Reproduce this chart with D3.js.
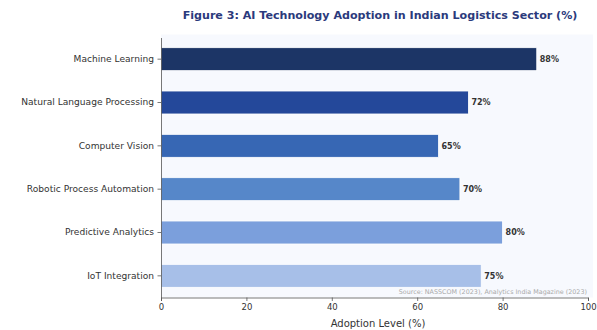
<!DOCTYPE html>
<html>
<head>
<meta charset="utf-8">
<script src="https://cdn.jsdelivr.net/npm/d3@7/dist/d3.min.js"></script>
<style>
  body { margin: 0; background: #fff; }
  svg { font-family: "DejaVu Sans", sans-serif; display: block; }
</style>
</head>
<body>
<div id="chart"></div>
<script>
// data
const technologies = ["Machine Learning", "Natural Language Processing", "Computer Vision",
  "Robotic Process Automation", "Predictive Analytics", "IoT Integration"];
const adoption = [88, 72, 65, 70, 80, 75];
const barColors = ["#1c3566", "#24489a", "#3767b4", "#5687c9", "#7b9fdc", "#a7bfe8"];
const xTicks = [0, 20, 40, 60, 80, 100];

const width = 597, height = 330;
const margin = { top: 37.5, right: 9, bottom: 32.5, left: 161 };

const svg = d3.select("#chart").append("svg")
  .attr("width", width)
  .attr("height", height);

const data = technologies.map((t, i) => ({ name: t, value: adoption[i], color: barColors[i] }));

const x = d3.scaleLinear().domain([0, 100]).range([margin.left, width - margin.right]);
const y = d3.scaleBand()
  .domain(technologies)
  .range([margin.top, height - margin.bottom])
  .paddingInner(0.47)
  .paddingOuter(0.235);

// plot background
svg.append("rect")
  .attr("x", margin.left)
  .attr("y", margin.top - 3)
  .attr("width", width - margin.left - 4)
  .attr("height", height - margin.bottom - margin.top + 3)
  .attr("fill", "#f7f9fe");

// bars
svg.append("g")
  .selectAll("rect")
  .data(data)
  .join("rect")
  .attr("x", x(0))
  .attr("y", d => y(d.name))
  .attr("width", d => x(d.value) - x(0))
  .attr("height", y.bandwidth())
  .attr("fill", d => d.color)
  .attr("stroke", "#ffffff")
  .attr("stroke-width", 0.8);

// value labels
svg.append("g")
  .selectAll("text")
  .data(data)
  .join("text")
  .attr("x", d => x(d.value) + 3)
  .attr("y", d => y(d.name) + y.bandwidth() / 2)
  .attr("dy", "0.35em")
  .attr("font-size", 8)
  .attr("font-weight", "bold")
  .attr("fill", "#333")
  .text(d => d.value + "%");

// x axis
const xAxis = svg.append("g")
  .attr("transform", `translate(0,${height - margin.bottom})`)
  .call(d3.axisBottom(x).tickValues(xTicks).tickSize(3.5).tickPadding(3));
xAxis.select(".domain").attr("stroke", "#555").attr("stroke-width", 0.8);
xAxis.selectAll(".tick line").attr("stroke", "#555").attr("stroke-width", 0.8);
xAxis.selectAll("text").attr("font-size", 8.5).attr("fill", "#333")
  .attr("font-family", "DejaVu Sans, sans-serif");

// y axis
const yAxis = svg.append("g")
  .attr("transform", `translate(${margin.left},0)`)
  .call(d3.axisLeft(y).tickSize(3.5).tickPadding(3.5).tickSizeOuter(0));
yAxis.select(".domain").attr("stroke", "#555").attr("stroke-width", 0.8);
yAxis.selectAll(".tick line").attr("stroke", "#555").attr("stroke-width", 0.8);
yAxis.selectAll("text").attr("font-size", 9.1).attr("fill", "#333")
  .attr("font-family", "DejaVu Sans, sans-serif");

// title
svg.append("text")
  .attr("x", 380)
  .attr("y", 19)
  .attr("text-anchor", "middle")
  .attr("font-size", 11.1)
  .attr("font-weight", "bold")
  .attr("fill", "#2b3a7c")
  .text("Figure 3: AI Technology Adoption in Indian Logistics Sector (%)");

// x label
svg.append("text")
  .attr("x", 378)
  .attr("y", 327)
  .attr("text-anchor", "middle")
  .attr("font-size", 10)
  .attr("fill", "#333")
  .text("Adoption Level (%)");

// source note
svg.append("text")
  .attr("x", 587)
  .attr("y", 294)
  .attr("text-anchor", "end")
  .attr("font-size", 6.4)
  .attr("fill", "#aaa")
  .text("Source: NASSCOM (2023), Analytics India Magazine (2023)");
</script>
</body>
</html>
